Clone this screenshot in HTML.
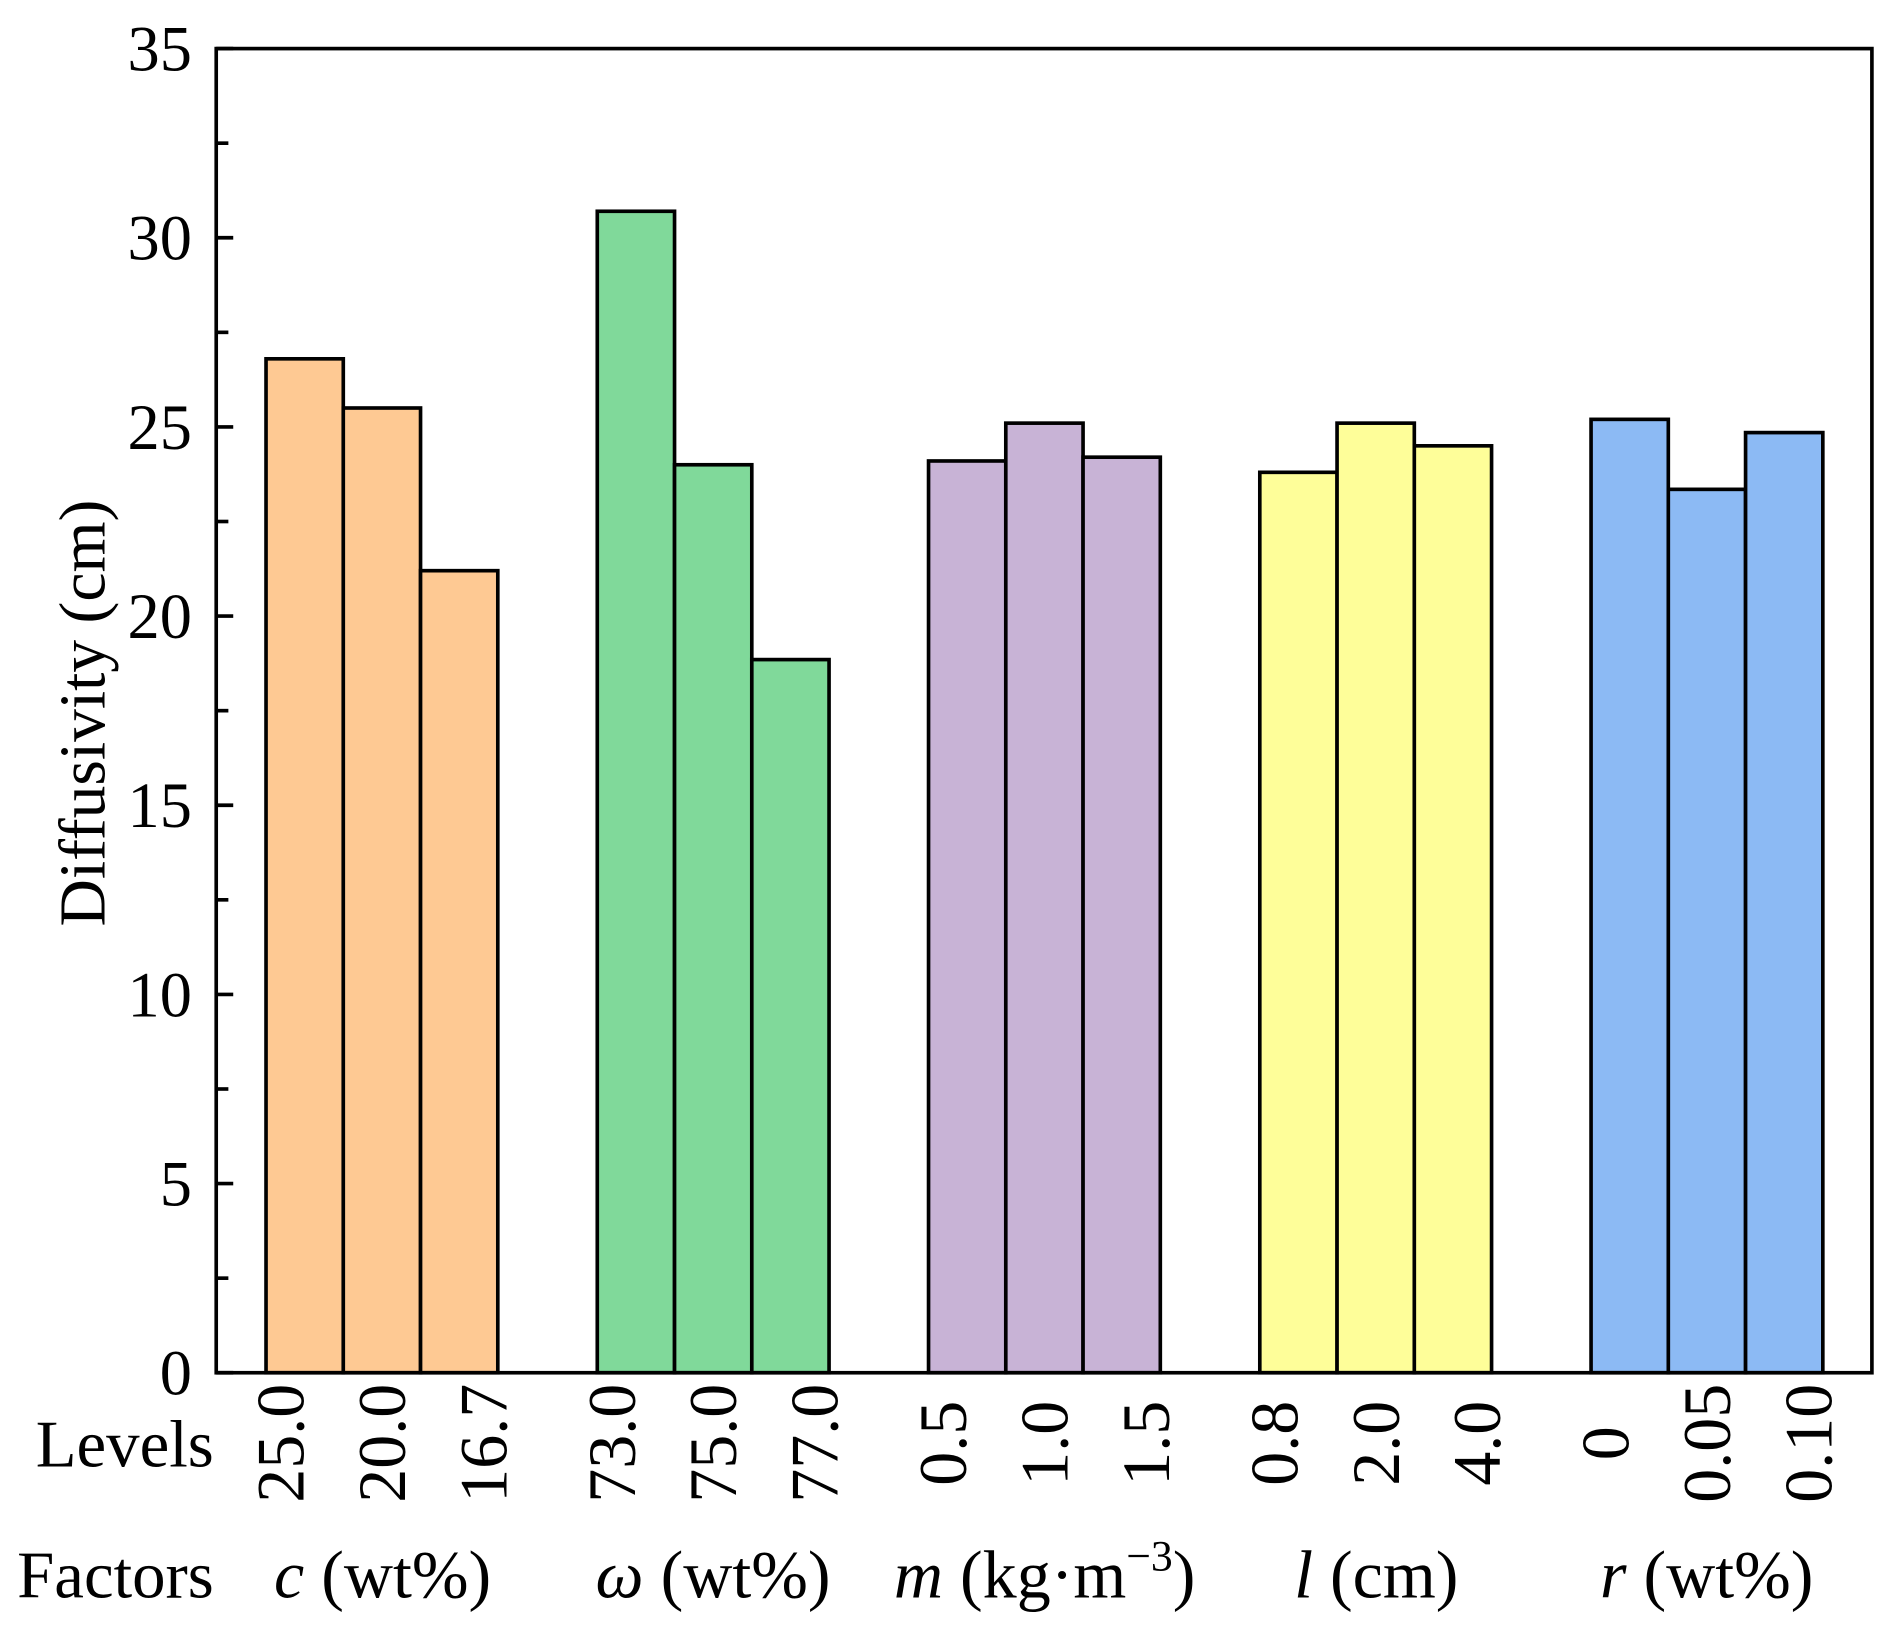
<!DOCTYPE html>
<html><head><meta charset="utf-8"><style>
html,body{margin:0;padding:0;background:#fff}
svg{display:block}
text{font-family:"Liberation Serif",serif;fill:#000}
</style></head><body>
<svg id="chart" width="1903" height="1640" viewBox="0 0 1566.6 1350" preserveAspectRatio="none" xmlns="http://www.w3.org/2000/svg">
<g id="plot"></g>
</svg>
<script>
const groups = ["c", "omega", "m", "l", "r"];
const levelLabels = [["25.0","20.0","16.7"],["73.0","75.0","77.0"],["0.5","1.0","1.5"],["0.8","2.0","4.0"],["0","0.05","0.10"]];
const values = [[26.8,25.5,21.2],[30.7,24.0,18.85],[24.1,25.1,24.2],[23.8,25.1,24.5],[25.2,23.35,24.85]];
const colors = ["#fec993","#80d99a","#c8b3d6","#fefe99","#8cbaf4"];
const yTicks = [0,5,10,15,20,25,30,35];

const NS="http://www.w3.org/2000/svg";
const svg=document.getElementById('plot');
const L=178,R=1541,T=40,B=1130,YMAX=35;
const y=v=>B-(v/YMAX)*(B-T);
const groupStart=g=>219+g*272.7;
const barW=63.6;
const x=(g,i)=>groupStart(g)+i*barW;
function mk(tag,attrs,parent){const e=document.createElementNS(NS,tag);for(const k in attrs)e.setAttribute(k,attrs[k]);(parent||svg).appendChild(e);return e;}

values.forEach((vals,g)=>{vals.forEach((v,i)=>{
  const r=mk('rect',{x:x(g,i),y:y(v),width:barW,height:B-y(v),fill:colors[g],stroke:'#000','stroke-width':3});
  
  
  const cx=x(g,1)+barW/2+(i-1)*83.5;
  const t=mk('text',{x:0,y:0,'font-size':56,'text-anchor':'middle',transform:`translate(${cx+19},1188) rotate(-90)`});
  t.textContent=levelLabels[g][i];
  
  
});});

const frame=mk('rect',{x:L,y:T,width:R-L,height:B-T,fill:'none',stroke:'#000','stroke-width':3});



yTicks.forEach(v=>{
  const tk=mk('line',{x1:L,x2:L+14,y1:y(v),y2:y(v),stroke:'#000','stroke-width':3});
  
  
  if(v<YMAX){const m=mk('line',{x1:L,x2:L+10,y1:y(v+2.5),y2:y(v+2.5),stroke:'#000','stroke-width':3});
  
  }
  const t=mk('text',{x:158,y:y(v)+18,'font-size':53,'text-anchor':'end'});
  t.textContent=v;
  
  
});
</script>
<svg style="position:absolute;left:0;top:0" width="1903" height="1640" viewBox="0 0 1566.6 1350" preserveAspectRatio="none" xmlns="http://www.w3.org/2000/svg">
<text transform="translate(86,587) rotate(-90)" font-size="54" text-anchor="middle">Diffusivity (cm)</text>
<text x="176" y="1207" font-size="55" text-anchor="end">Levels</text>
<text x="176" y="1315" font-size="55" text-anchor="end">Factors</text>
<text x="315" y="1315" font-size="56" text-anchor="middle"><tspan font-style="italic">c</tspan> (wt%)</text>
<text x="587" y="1315" font-size="56" text-anchor="middle"><tspan font-style="italic">ω</tspan> (wt%)</text>
<text x="860" y="1315" font-size="56" text-anchor="middle"><tspan font-style="italic">m</tspan> (kg·m<tspan font-size="36" dy="-22">−3</tspan><tspan dy="22">)</tspan></text>
<text x="1133" y="1315" font-size="56" text-anchor="middle"><tspan font-style="italic">l</tspan> (cm)</text>
<text x="1405" y="1315" font-size="56" text-anchor="middle"><tspan font-style="italic">r</tspan> (wt%)</text>
</svg>
</body></html>
